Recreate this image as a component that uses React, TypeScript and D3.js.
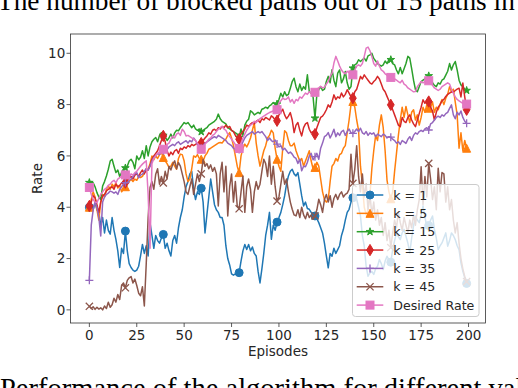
import React from "react";
import * as d3 from "d3";

// ---------- data ----------
const episodes: number[] = Array.from({ length: 200 }, (_, i) => i);
const markerEpisodes = [0, 19, 39, 59, 79, 99, 119, 139, 159, 179, 199];
const xTicks = [0, 25, 50, 75, 100, 125, 150, 175, 200];
const yTicks = [0, 2, 4, 6, 8, 10];

const k1 = [
  4.0, 4.1, 3.9, 4.2, 3.9, 3.8, 3.3, 3.6, 3.0, 3.5,
  3.1, 2.95, 3.6, 3.1, 2.75, 2.3, 1.65, 2.4, 2.2, 3.07,
  2.3, 1.8, 1.65, 1.55, 1.5, 1.55, 1.7, 2.1, 2.55, 2.2,
  2.5, 2.1, 3.4, 2.9, 2.4, 2.9, 2.7, 2.6, 2.8, 2.94,
  2.4, 2.6, 2.3, 2.1, 2.7, 2.9, 2.6, 3.2, 3.6, 3.9,
  4.4, 4.8, 5.0, 5.3, 5.4, 4.7, 4.3, 4.6, 4.5, 4.74,
  4.2, 3.0, 3.7, 4.4, 5.1, 4.6, 4.1, 3.9, 3.8, 3.6,
  3.6, 3.3, 2.5, 2.0, 1.75, 1.4, 1.35, 1.4, 1.35, 1.45,
  1.9, 2.3, 2.55, 2.35, 2.55, 2.3, 2.45, 2.2, 2.1, 1.5,
  1.05, 1.6, 2.2, 2.9, 3.3, 3.8, 2.75, 3.3, 3.1, 3.42,
  3.6, 3.8, 4.1, 4.44, 4.9, 5.22, 5.4, 5.48, 5.3, 5.22,
  5.35, 4.9, 4.44, 4.05, 4.2, 3.95, 3.92, 3.8, 3.7, 3.66,
  3.55, 3.4, 3.2, 3.0, 2.6, 2.1, 1.64, 2.2, 2.09, 2.4,
  2.2, 2.35, 2.5, 2.9, 3.14, 3.5, 3.8, 3.92, 4.2, 4.37,
  4.35, 4.31, 4.0, 3.66, 2.9, 2.48, 1.7, 1.31, 1.44, 1.5,
  1.38, 1.6, 1.7, 1.96, 1.8, 1.57, 1.9, 2.09, 1.95, 1.86,
  2.35, 2.7, 3.0, 2.85, 2.74, 3.0, 3.14, 2.87, 2.6, 2.22,
  2.8, 3.27, 3.66, 3.5, 3.4, 3.7, 4.05, 3.6, 3.27, 3.29,
  3.5, 3.66, 3.14, 2.8, 2.35, 2.5, 2.61, 2.8, 3.0, 2.48,
  2.7, 3.0, 2.9, 2.74, 2.5, 2.35, 1.83, 1.5, 1.25, 1.03,
];

const k5 = [
  4.0, 4.3, 4.6, 4.4, 3.9, 3.5, 4.2, 4.5, 4.4, 4.7,
  4.83, 4.7, 4.9, 4.8, 4.95, 4.75, 4.85, 4.6, 4.7, 4.8,
  4.9, 5.0, 5.09, 5.0, 5.1, 5.05, 5.2, 5.16, 5.2, 5.35,
  5.4, 5.48, 5.7, 6.0, 5.85, 6.0, 5.9, 6.05, 6.13, 5.94,
  5.8, 5.7, 5.55, 5.6, 5.75, 5.6, 5.48, 5.9, 6.07, 6.05,
  5.8, 5.3, 5.0, 5.1, 5.5, 6.0, 5.95, 6.05, 5.9, 5.87,
  5.8, 6.0, 6.1, 6.26, 6.3, 6.35, 6.4, 6.45, 6.5, 6.52,
  6.5, 6.6, 6.65, 6.8, 6.91, 6.7, 6.4, 6.0, 5.6, 5.35,
  6.0, 6.3, 6.46, 6.35, 6.5, 6.7, 7.0, 7.3, 6.5, 6.0,
  5.6, 5.9, 6.2, 6.4, 6.7, 6.8, 7.0, 6.9, 6.3, 5.87,
  5.6, 5.4, 6.3, 6.98, 6.9, 6.6, 6.4, 6.4, 6.5, 6.2,
  6.0, 5.8, 5.9, 5.6, 5.8, 6.0, 6.2, 5.8, 5.5, 5.55,
  5.75, 5.6, 5.1, 4.6, 4.3, 4.2, 4.3, 5.0, 5.6, 5.7,
  5.9, 5.8, 6.05, 6.1, 6.3, 6.4, 6.9, 7.4, 8.0, 8.12,
  7.9, 7.4, 7.0, 5.6, 4.9, 4.0, 3.7, 3.9, 4.5, 5.5,
  6.2, 6.8, 6.6, 7.2, 7.6, 7.1, 6.2, 5.06, 4.6, 4.33,
  4.6, 5.4, 6.1, 6.8, 7.4, 7.9, 7.5, 7.93, 7.6, 7.3,
  7.7, 7.8, 7.4, 7.6, 7.2, 7.5, 7.9, 7.7, 8.0, 7.86,
  7.9, 8.1, 7.7, 7.9, 7.8, 8.0, 8.2, 8.0, 8.25, 8.4,
  8.7, 8.5, 8.6, 8.1, 7.6, 6.3, 6.9, 6.2, 6.6, 6.3,
];

const k15 = [
  4.96, 5.0, 4.95, 4.8, 4.57, 4.4, 4.3, 4.83, 5.0, 5.22,
  5.48, 5.8, 5.87, 5.6, 5.35, 5.45, 5.2, 5.35, 5.5, 5.53,
  5.6, 5.8, 5.87, 5.75, 5.5, 6.0, 5.85, 5.95, 6.2, 5.9,
  6.4, 6.0, 6.35, 6.55, 6.65, 6.72, 6.55, 6.8, 6.91, 6.8,
  6.75, 6.6, 6.7, 6.85, 6.7, 6.9, 7.0, 6.98, 7.1, 7.2,
  7.3, 7.25, 7.3, 7.2, 7.1, 7.2, 7.05, 7.0, 7.05, 6.94,
  7.0, 7.05, 7.1, 7.2, 7.25, 7.3, 7.35, 7.43, 7.63, 7.45,
  7.35, 7.3, 7.25, 7.1, 7.05, 7.0, 6.95, 6.9, 6.85, 6.72,
  7.05, 6.8, 7.2, 7.35, 7.43, 7.76, 7.7, 7.6, 7.65, 7.7,
  7.65, 7.82, 7.85, 7.9, 7.85, 7.95, 8.0, 8.08, 8.0, 8.02,
  8.2, 8.44, 8.3, 8.5, 8.35, 8.4, 8.64, 8.9, 9.03, 8.7,
  8.5, 8.8, 8.55, 8.7, 8.6, 9.16, 8.51, 8.45, 8.3, 7.47,
  8.4, 8.58, 8.7, 8.55, 8.6, 8.9, 9.1, 8.85, 9.36, 8.95,
  8.7, 9.23, 9.35, 8.85, 9.0, 9.29, 8.85, 8.6, 8.7, 9.42,
  9.55, 9.6, 9.75, 9.68, 9.75, 9.81, 9.7, 9.9, 9.94, 10.0,
  9.8, 9.7, 9.6, 9.55, 9.5, 9.55, 9.7, 9.6, 9.75, 9.75,
  9.6, 9.55, 9.35, 9.2, 9.45, 9.2, 9.4, 9.6, 9.88, 9.81,
  9.4, 8.95, 8.58, 8.5, 8.7, 8.9, 8.95, 9.0, 9.05, 9.12,
  9.0, 8.85, 8.75, 8.7, 8.85, 8.8, 8.95, 9.0, 9.15, 9.3,
  9.6, 9.35, 9.55, 9.68, 9.35, 8.95, 8.77, 8.7, 8.6, 8.55,
];

const k25 = [
  4.05, 4.2, 4.45, 4.37, 4.1, 3.8, 4.2, 4.44, 4.5, 4.63,
  4.7, 4.75, 4.8, 4.7, 4.9, 4.8, 4.85, 4.95, 5.0, 4.96,
  5.05, 5.15, 5.2, 5.1, 5.25, 5.3, 5.2, 5.35, 5.45, 5.3,
  5.5, 5.45, 5.61, 5.87, 6.0, 6.1, 6.2, 6.4, 6.6, 6.78,
  6.55, 6.2, 6.0, 6.15, 6.05, 6.2, 6.25, 6.1, 6.3, 6.25,
  6.35, 6.3, 6.4, 6.35, 6.45, 6.4, 6.45, 6.5, 6.52, 6.5,
  6.6, 6.7, 6.78, 6.9, 6.85, 7.0, 7.04, 6.98, 7.1, 7.05,
  7.15, 7.1, 7.2, 7.1, 7.15, 7.0, 6.95, 6.8, 6.7, 6.65,
  6.85, 6.95, 7.05, 7.2, 7.15, 7.24, 7.3, 7.25, 7.35, 7.4,
  7.3, 7.45, 7.4, 7.5, 7.45, 7.4, 7.56, 7.5, 7.4, 7.37,
  7.6, 7.7, 7.82, 7.6, 7.45, 7.55, 7.69, 7.4, 6.91, 7.2,
  7.3, 7.0, 6.78, 7.1, 7.25, 7.3, 7.04, 6.9, 6.95, 6.85,
  7.1, 7.3, 7.5, 7.55, 7.66, 7.8, 7.99, 7.9, 8.1, 8.38,
  8.2, 8.3, 8.25, 8.45, 8.3, 8.4, 8.58, 8.45, 8.3, 8.25,
  8.5, 8.6, 8.84, 9.1, 9.0, 9.16, 9.05, 8.95, 8.85, 8.8,
  8.9, 8.97, 9.1, 9.0, 8.8, 8.6, 8.5, 8.32, 8.15, 7.99,
  7.8, 7.6, 7.4, 7.2, 7.14, 7.5, 7.35, 7.3, 7.5, 7.6,
  7.4, 7.25, 7.14, 7.4, 7.65, 7.9, 8.19, 8.05, 8.15, 8.12,
  7.9, 7.75, 7.4, 7.7, 7.9, 8.0, 8.15, 8.2, 8.32, 8.4,
  8.45, 8.5, 8.48, 8.55, 8.6, 8.64, 8.3, 8.84, 8.3, 7.8,
];

const k35 = [
  1.15, 3.3, 3.9, 4.2, 4.0, 3.6, 2.88, 4.2, 4.4, 4.5,
  4.55, 4.63, 4.6, 4.55, 4.6, 4.5, 4.7, 4.8, 4.9, 4.96,
  4.95, 5.05, 5.1, 5.2, 5.3, 5.35, 5.15, 5.25, 5.29, 5.4,
  5.5, 5.45, 5.6, 5.8, 5.94, 6.0, 6.1, 6.05, 6.2, 6.2,
  6.3, 6.25, 6.35, 6.4, 6.45, 6.4, 6.5, 6.55, 6.45, 6.5,
  6.55, 6.59, 6.5, 6.6, 6.55, 6.7, 6.6, 6.45, 6.35, 6.3,
  6.4, 6.5, 6.55, 6.6, 6.65, 6.7, 6.75, 6.7, 6.8, 6.75,
  6.7, 6.65, 6.6, 6.5, 6.45, 6.4, 6.3, 6.25, 6.2, 6.25,
  6.4, 6.55, 6.7, 6.8, 6.85, 6.9, 6.95, 6.85, 6.9, 6.95,
  6.9, 6.95, 6.85, 6.75, 6.6, 6.7, 6.6, 6.55, 6.62, 6.46,
  6.35, 6.4, 6.23, 6.3, 6.2, 6.1, 6.15, 6.07, 5.95, 5.9,
  5.71, 5.87, 5.42, 5.6, 5.58, 5.75, 6.0, 6.1, 5.85, 5.97,
  6.1, 5.87, 6.3, 6.5, 6.75, 6.8, 6.91, 6.7, 6.85, 7.04,
  6.75, 6.9, 6.8, 6.95, 7.0, 6.8, 6.95, 7.05, 6.9, 6.88,
  6.95, 7.05, 6.95, 7.08, 6.9, 6.85, 6.95, 6.8, 6.9, 6.85,
  6.9, 6.75, 6.85, 6.8, 6.75, 6.85, 6.8, 6.7, 6.75, 6.73,
  6.65, 6.6, 6.5, 6.55, 6.45, 6.6, 6.55, 6.49, 6.65, 6.75,
  6.6, 6.8, 6.9, 6.85, 6.95, 7.0, 6.95, 7.05, 7.1, 7.01,
  7.25, 7.3, 7.4, 7.5, 7.55, 7.5, 7.6, 7.55, 7.65, 7.7,
  7.85, 7.99, 7.6, 7.45, 7.7, 7.6, 7.75, 7.5, 7.35, 7.27,
];

const k45 = [
  0.14, 0.05, 0.12, 0.02, 0.1, 0.03, 0.08, 0.0, 0.15, 0.05,
  0.3, 0.1, 0.2, 0.45, 0.3, 0.6, 0.4, 0.95, 1.05, 0.86,
  1.15, 1.25, 1.3, 1.05, 1.2, 0.95, 0.65, 0.55, 0.9, 0.15,
  1.8, 3.6, 4.77, 5.0, 4.7, 5.29, 5.5, 4.9, 5.2, 4.95,
  5.4, 5.1, 5.6, 5.45, 5.68, 5.81, 5.5, 5.74, 5.6, 5.3,
  5.0, 4.6, 4.5, 4.8, 5.1, 4.5, 4.9, 5.3, 5.0, 5.3,
  5.87, 5.6, 5.7, 5.5, 5.65, 5.4, 5.55, 5.3, 4.05, 5.3,
  5.75, 4.6, 5.6, 3.66, 4.8, 5.3, 4.2, 5.0, 4.05, 3.94,
  4.6, 5.22, 3.8, 4.8, 5.1, 4.7, 3.8, 4.6, 5.0, 4.7,
  4.9, 5.4, 5.87, 5.7, 5.2, 6.0, 4.9, 5.6, 4.8, 4.24,
  4.4, 4.9, 5.4, 4.9, 5.1, 4.6, 4.2, 3.92, 3.7, 3.66,
  3.9, 3.6, 4.0, 3.7, 3.55, 3.8, 3.6, 3.7, 3.53, 3.66,
  3.9, 4.31, 4.1, 3.8, 4.3, 4.5, 4.2, 4.45, 4.0, 4.35,
  4.5, 4.3, 4.5, 4.6, 4.4, 4.5, 4.55, 4.7, 6.07, 4.93,
  5.48, 6.4, 5.2, 4.6, 5.3, 4.4, 4.9, 3.9, 4.5, 3.7,
  4.2, 3.5, 3.9, 3.3, 3.6, 2.9, 3.4, 2.7, 3.1, 2.43,
  3.0, 3.5, 3.2, 3.8, 3.4, 3.1, 3.6, 3.3, 3.0, 3.5,
  3.2, 3.7, 3.3, 3.9, 4.3, 5.58, 4.1, 5.2, 4.4, 5.71,
  5.1, 4.3, 4.8, 3.9, 5.52, 4.6, 5.35, 5.3, 4.2, 4.8,
  3.9, 4.3, 3.5, 3.0, 3.4, 2.6, 2.0, 1.6, 1.3, 1.1,
];

const desiredRate = [
  4.77, 4.5, 4.3, 4.2, 4.18, 4.35, 4.5, 4.6, 4.7, 4.75,
  4.85, 4.9, 5.0, 5.05, 4.95, 5.1, 5.15, 5.2, 5.22, 5.26,
  5.2, 5.15, 5.3, 5.25, 5.35, 5.4, 5.5, 5.6, 5.68, 5.75,
  5.81, 4.5, 2.4, 5.7, 5.9, 6.0, 6.1, 6.15, 6.2, 6.26,
  6.35, 6.45, 6.5, 6.65, 6.78, 6.7, 6.85, 6.9, 6.8, 7.04,
  6.95, 6.78, 6.8, 6.75, 6.7, 6.65, 6.6, 6.5, 6.4, 6.26,
  6.35, 6.45, 6.55, 6.65, 6.7, 6.8, 6.85, 6.95, 7.04, 7.1,
  7.15, 7.05, 7.0, 6.85, 6.75, 6.65, 6.55, 6.45, 6.35, 6.29,
  6.5, 6.7, 6.85, 7.0, 7.11, 7.2, 7.25, 7.35, 7.3, 7.4,
  7.45, 7.5, 7.55, 7.6, 7.65, 7.69, 7.72, 7.75, 7.78, 7.8,
  8.06, 8.15, 8.25, 8.2, 8.22, 8.3, 8.1, 8.2, 8.05, 8.2,
  8.15, 8.3, 8.25, 8.35, 8.45, 8.4, 8.5, 8.45, 8.4, 8.48,
  8.6, 8.65, 8.71, 8.65, 8.68, 8.8, 8.9, 9.1, 9.23, 9.62,
  9.88, 9.7, 9.5, 9.35, 9.25, 9.2, 9.3, 9.25, 9.2, 9.16,
  9.35, 9.5, 9.55, 9.5, 9.6, 9.88, 10.2, 10.24, 10.1, 9.88,
  9.6, 9.5, 9.7, 9.5, 9.35, 9.3, 9.2, 9.15, 9.1, 9.06,
  8.98, 9.0, 8.95, 8.9, 8.85, 8.95, 8.8, 8.75, 8.65, 8.6,
  8.55, 8.5, 8.51, 8.7, 8.8, 8.9, 8.85, 8.9, 8.95, 8.93,
  8.85, 8.75, 8.65, 8.6, 8.55, 8.6, 8.7, 8.75, 8.8, 8.85,
  8.8, 8.6, 8.45, 8.3, 8.2, 8.15, 8.1, 8.05, 8.03, 8.02,
];

const seriesNames = ["k = 1", "k = 5", "k = 15", "k = 25", "k = 35", "k = 45", "Desired Rate"];
const seriesValues = [k1, k5, k15, k25, k35, k45, desiredRate];
const seriesColors = ["#1f77b4", "#ff7f0e", "#2ca02c", "#d62728", "#9467bd", "#8c564b", "#e377c2"];
const seriesMarkers = ["o", "^", "*", "d", "+", "x", "s"];

// ---------- layout ----------
const W = 518;
const H = 388;
const M = { left: 70.5, right: 485.5, top: 34, bottom: 323 };
const FONT = "DejaVu Sans, sans-serif";
const SERIF = "Liberation Serif, Times New Roman, serif";

function Marker({ type, cx, cy, color }: { type: string; cx: number; cy: number; color: string }) {
  const ms = 8;
  const h = ms / 2;
  if (type === "o") return <circle cx={cx} cy={cy} r={h} fill={color} stroke={color} strokeWidth={1} />;
  if (type === "^")
    return <path d={`M${cx},${cy - h}L${cx + h},${cy + h}L${cx - h},${cy + h}Z`} fill={color} stroke={color} strokeWidth={1} />;
  if (type === "s")
    return <rect x={cx - h} y={cy - h} width={ms} height={ms} fill={color} stroke={color} strokeWidth={1} />;
  if (type === "d") {
    const hh = (ms * Math.SQRT2) / 2;
    const hw = hh * 0.6;
    return <path d={`M${cx},${cy - hh}L${cx + hw},${cy}L${cx},${cy + hh}L${cx - hw},${cy}Z`} fill={color} stroke={color} strokeWidth={1} />;
  }
  if (type === "*") {
    const pts: string[] = [];
    for (let i = 0; i < 10; i++) {
      const r = i % 2 === 0 ? h : h * 0.381966;
      const a = -Math.PI / 2 + (i * Math.PI) / 5;
      pts.push(`${cx + r * Math.cos(a)},${cy + r * Math.sin(a)}`);
    }
    return <polygon points={pts.join(" ")} fill={color} stroke={color} strokeWidth={1} />;
  }
  if (type === "+")
    return <path d={`M${cx - h},${cy}H${cx + h}M${cx},${cy - h}V${cy + h}`} stroke={color} strokeWidth={1.3} fill="none" />;
  if (type === "x") {
    const q = h * 0.9;
    return <path d={`M${cx - q},${cy - q}L${cx + q},${cy + q}M${cx - q},${cy + q}L${cx + q},${cy - q}`} stroke={color} strokeWidth={1.3} fill="none" />;
  }
  return null;
}

export default function App() {
  const all = seriesValues.flat();
  const [ymin, ymax] = d3.extent(all) as [number, number];
  const yPad = (ymax - ymin) * 0.05;
  const [xmin, xmax] = d3.extent(episodes) as [number, number];
  const xPad = (xmax - xmin) * 0.05;

  const x = d3.scaleLinear().domain([xmin - xPad, xmax + xPad]).range([M.left, M.right]);
  const y = d3.scaleLinear().domain([ymin - yPad, ymax + yPad]).range([M.bottom, M.top]);

  const line = d3
    .line<number>()
    .x((_, i) => x(episodes[i]))
    .y((d) => y(d));

  const lg = { x: 352.5, y: 184.5, w: 126.5, h: 132, row0: 195, step: 18.35 };
  const tickFont = 13.5;

  return (
    <svg
      width={W}
      height={H}
      viewBox={`0 0 ${W} ${H}`}
      style={{ position: "fixed", left: 0, top: 0, background: "#fff" }}
      fontFamily={FONT}
    >
      <rect x={0} y={0} width={W} height={H} fill="#fff" />

      {/* surrounding page text (cropped by the window) */}
      <text x={-3} y={10} fontFamily={SERIF} fontSize={27.3} fill="#000">
        The number of blocked paths out of 15 paths in
      </text>
      <text x={0} y={398} fontFamily={SERIF} fontSize={28.5} fill="#000">
        Performance of the algorithm for different values of k
      </text>

      <defs>
        <clipPath id="plotClip">
          <rect x={M.left} y={M.top} width={M.right - M.left} height={M.bottom - M.top} />
        </clipPath>
      </defs>
      <g clipPath="url(#plotClip)">
        {seriesValues.map((vals, si) => (
          <g key={si}>
            <path d={line(vals) || ""} fill="none" stroke={seriesColors[si]} strokeWidth={1.5} strokeLinejoin="round" />
            {markerEpisodes.map((ep) => (
              <Marker key={ep} type={seriesMarkers[si]} cx={x(ep)} cy={y(vals[ep])} color={seriesColors[si]} />
            ))}
          </g>
        ))}
      </g>

      <rect x={M.left} y={M.top} width={M.right - M.left} height={M.bottom - M.top} fill="none" stroke="#333" strokeWidth={0.8} />

      {xTicks.map((t) => (
        <g key={t}>
          <line x1={x(t)} x2={x(t)} y1={M.bottom} y2={M.bottom + 4} stroke="#333" strokeWidth={0.8} />
          <text x={x(t)} y={339.5} textAnchor="middle" fontSize={tickFont} fill="#262626">
            {t}
          </text>
        </g>
      ))}
      {yTicks.map((t) => (
        <g key={t}>
          <line x1={M.left - 4} x2={M.left} y1={y(t)} y2={y(t)} stroke="#333" strokeWidth={0.8} />
          <text x={65.3} y={y(t)} dy="0.36em" textAnchor="end" fontSize={tickFont} fill="#262626">
            {t}
          </text>
        </g>
      ))}

      <text x={(M.left + M.right) / 2} y={355.5} textAnchor="middle" fontSize={tickFont} fill="#262626">
        Episodes
      </text>
      <text transform={`translate(42, ${(M.top + M.bottom) / 2}) rotate(-90)`} textAnchor="middle" fontSize={tickFont} fill="#262626">
        Rate
      </text>

      <rect x={lg.x} y={lg.y} width={lg.w} height={lg.h} rx={3} ry={3} fill="#fff" fillOpacity={0.8} stroke="#cccccc" strokeWidth={1} />
      {seriesNames.map((name, i) => {
        const cy = lg.row0 + i * lg.step;
        return (
          <g key={name}>
            <line x1={356.7} x2={383.3} y1={cy} y2={cy} stroke={seriesColors[i]} strokeWidth={1.5} />
            <Marker type={seriesMarkers[i]} cx={370} cy={cy} color={seriesColors[i]} />
            <text x={393.3} y={cy} dy="0.36em" fontSize={12.6} fill="#262626">
              {name}
            </text>
          </g>
        );
      })}
    </svg>
  );
}
